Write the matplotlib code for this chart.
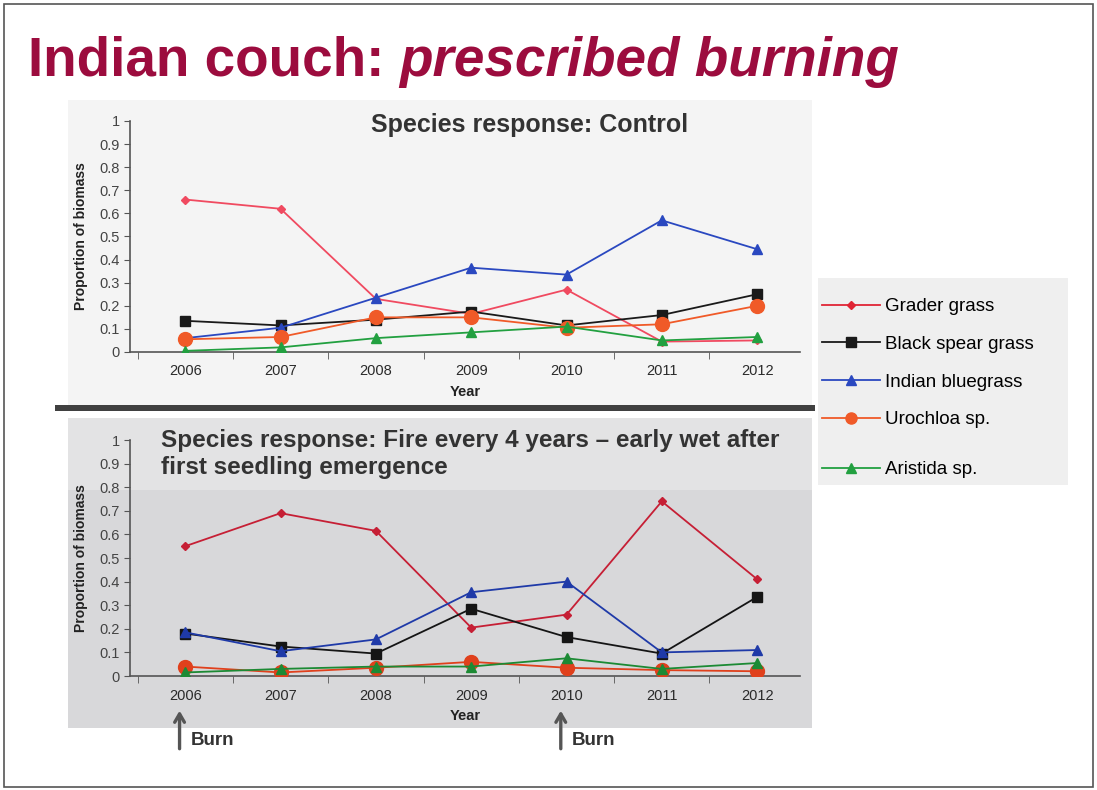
import matplotlib.pyplot as plt
import matplotlib.patches as mpatches
from matplotlib.lines import Line2D
from matplotlib.ticker import FixedLocator, FuncFormatter

plt.rcParams["font.family"] = ["Liberation Sans", "DejaVu Sans"]

years = [2006, 2007, 2008, 2009, 2010, 2011, 2012]
species = ["Grader grass", "Black spear grass", "Indian bluegrass", "Urochloa sp.", "Aristida sp."]

# proportion of biomass, control plots
control = {
    "Grader grass": [0.66, 0.62, 0.23, 0.165, 0.27, 0.045, 0.05],
    "Black spear grass": [0.135, 0.115, 0.14, 0.175, 0.115, 0.16, 0.25],
    "Indian bluegrass": [0.06, 0.105, 0.235, 0.365, 0.335, 0.57, 0.445],
    "Urochloa sp.": [0.055, 0.065, 0.15, 0.15, 0.105, 0.12, 0.20],
    "Aristida sp.": [0.005, 0.02, 0.06, 0.085, 0.11, 0.05, 0.065],
}
# proportion of biomass, fire every 4 years
fire = {
    "Grader grass": [0.55, 0.69, 0.615, 0.205, 0.26, 0.74, 0.41],
    "Black spear grass": [0.18, 0.125, 0.095, 0.285, 0.165, 0.095, 0.335],
    "Indian bluegrass": [0.185, 0.105, 0.155, 0.355, 0.40, 0.10, 0.11],
    "Urochloa sp.": [0.04, 0.015, 0.035, 0.06, 0.035, 0.025, 0.02],
    "Aristida sp.": [0.015, 0.03, 0.04, 0.04, 0.075, 0.03, 0.055],
}
burn_years = [2006, 2010]

styles = {
    "Grader grass": dict(marker="D", ms=4.5),
    "Black spear grass": dict(marker="s", ms=7.5),
    "Indian bluegrass": dict(marker="^", ms=7),
    "Urochloa sp.": dict(marker="o", ms=10),
    "Aristida sp.": dict(marker="^", ms=7),
}
colors_top = {"Grader grass": "#f04a60", "Black spear grass": "#1a1a1a", "Indian bluegrass": "#2a48c0",
              "Urochloa sp.": "#f05a28", "Aristida sp.": "#22a040"}
colors_bot = {"Grader grass": "#c61f35", "Black spear grass": "#151515", "Indian bluegrass": "#1f3aa8",
              "Urochloa sp.": "#e0401c", "Aristida sp.": "#1c8a34"}

W, H = 1097, 790
fig = plt.figure(figsize=(W / 100, H / 100), dpi=100)


def px_rect(x0, y0, x1, y1, **kw):
    fig.patches.append(mpatches.Rectangle((x0 / W, 1 - y1 / H), (x1 - x0) / W, (y1 - y0) / H,
                                          transform=fig.transFigure, zorder=-10, **kw))


# slide border and photo panels
px_rect(4, 4, 1093, 787, facecolor="white", edgecolor="#555555", lw=1.2)
px_rect(68, 100, 812, 405, facecolor="#f4f4f4", edgecolor="none")
px_rect(68, 418, 812, 728, facecolor="#d8d8da", edgecolor="none")
px_rect(68, 418, 812, 490, facecolor="#e3e3e4", edgecolor="none")
px_rect(55, 405, 815, 411, facecolor="#404040", edgecolor="none")
px_rect(818, 278, 1068, 485, facecolor="#efefef", edgecolor="none")

t1 = fig.text(28 / W, 1 - 62 / H, "Indian couch: ", fontsize=39.5, fontweight="bold",
              color="#9c0c3e", va="center", ha="left")
ann_ax = fig.add_axes([0, 0, 1, 1], facecolor="none")
ann_ax.axis("off")
ann_ax.annotate("prescribed burning", xy=(1, 0), xycoords=t1, va="bottom", ha="left",
                fontsize=39.5, fontweight="bold", style="italic", color="#9c0c3e")


def draw_panel(rect, data, colors, title, title_xy, title_ha, title_size):
    ax = fig.add_axes(rect, facecolor="none")
    for sp in species:
        ax.plot(years, data[sp], color=colors[sp], lw=1.3, mec=colors[sp], mfc=colors[sp],
                **styles[sp], zorder=3)
    ax.set_ylim(0, 1)
    ax.set_xlim(2005.42, 2012.45)
    ax.yaxis.set_major_locator(FixedLocator([i / 10 for i in range(11)]))
    ax.yaxis.set_major_formatter(FuncFormatter(lambda v, p: f"{v:g}"))
    ax.set_xticks(years)
    ax.xaxis.set_minor_locator(FixedLocator([y + 0.5 for y in range(2005, 2013)]))
    ax.tick_params(axis="x", which="major", length=0, pad=9, labelsize=10.5, colors="#2a2a2a")
    ax.tick_params(axis="x", which="minor", length=5, color="#555555", direction="out")
    ax.tick_params(axis="y", length=4, color="#555555", labelsize=10.5, labelcolor="#444444")
    for s in ("top", "right"):
        ax.spines[s].set_visible(False)
    for s in ("left", "bottom"):
        ax.spines[s].set_color("#555555")
        ax.spines[s].set_linewidth(1.2)
    ax.set_xlabel("Year", fontsize=10.5, fontweight="bold", color="#222222", labelpad=5)
    ax.set_ylabel("Proportion of biomass", fontsize=10, fontweight="bold", color="#222222", labelpad=8)
    ax.text(title_xy[0], title_xy[1], title, transform=ax.transAxes, ha=title_ha, va="top",
            fontsize=title_size, fontweight="bold", color="#333333", linespacing=1.2)
    return ax


ax1 = draw_panel([130 / W, 1 - 352 / H, 670 / W, 231 / H], control, colors_top,
                 "Species response: Control", (0.597, 1.035), "center", 18)
ax2 = draw_panel([130 / W, 1 - 676 / H, 670 / W, 236 / H], fire, colors_bot,
                 "Species response: Fire every 4 years \u2013 early wet after\nfirst seedling emergence",
                 (0.047, 1.045), "left", 17.5)

# burn arrows under the lower chart
for yr in burn_years:
    ax2.annotate("", xy=(yr - 0.06, -0.135), xytext=(yr - 0.06, -0.32), xycoords=("data", "axes fraction"),
                 textcoords=("data", "axes fraction"),
                 arrowprops=dict(arrowstyle="->,head_length=0.6,head_width=0.35", color="#555555", lw=2.4),
                 annotation_clip=False)
    ax2.text(yr + 0.06, -0.275, "Burn", transform=ax2.get_xaxis_transform(), ha="left", va="center",
             fontsize=13.5, fontweight="bold", color="#333333", clip_on=False)

handles = [Line2D([], [], color=colors_top[sp], lw=1.3, mfc=colors_top[sp], mec=colors_top[sp],
                  **styles[sp]) for sp in species]
handles[0].set_color("#e02535")
handles[0].set_markerfacecolor("#e02535")
handles[0].set_markeredgecolor("#e02535")
handles[3].set_markersize(8)
leg_kw = dict(loc="upper left", frameon=False, fontsize=13.5, handlelength=3.1, handletextpad=0.25,
              borderpad=0, borderaxespad=0)
fig.legend(handles[:4], species[:4], bbox_to_anchor=(822 / W, 1 - 298 / H), labelspacing=1.1, **leg_kw)
fig.legend(handles[4:], species[4:], bbox_to_anchor=(822 / W, 1 - 461 / H), **leg_kw)

fig.savefig("out.png", dpi=100)
